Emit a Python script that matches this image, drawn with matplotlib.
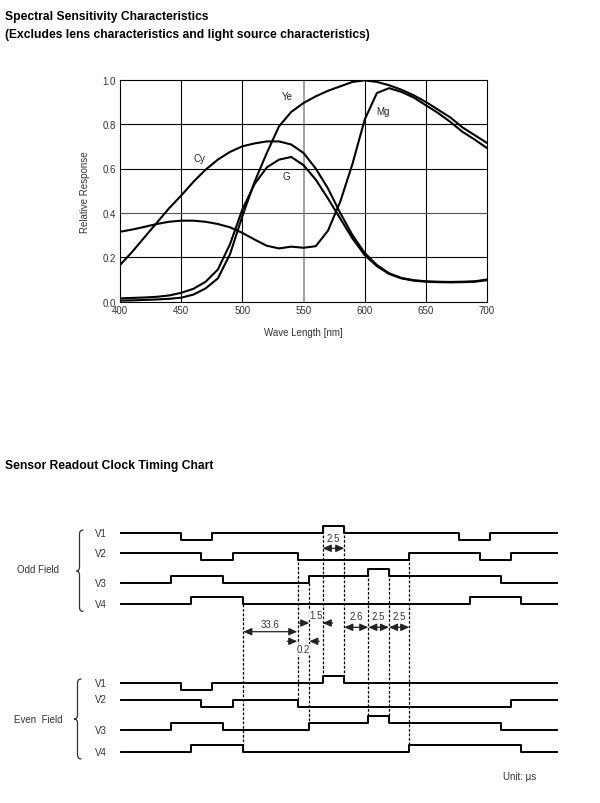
import matplotlib
matplotlib.use("Agg")
import matplotlib.pyplot as plt
from matplotlib.path import Path
from matplotlib.patches import PathPatch

plt.rcParams['font.family'] = ['Liberation Sans', 'DejaVu Sans']

# ---------------- Spectral data ----------------
wavelength = [400, 410, 420, 430, 440, 450, 460, 470, 480, 490, 500, 510, 520, 530, 540, 550,
              560, 570, 580, 590, 600, 610, 620, 630, 640, 650, 660, 670, 680, 690, 700]
cy = [0.165, 0.225, 0.29, 0.355, 0.42, 0.478, 0.54, 0.595, 0.64, 0.675, 0.70, 0.713, 0.722, 0.722, 0.708, 0.67,
      0.60, 0.51, 0.40, 0.30, 0.22, 0.165, 0.128, 0.107, 0.097, 0.092, 0.09, 0.089, 0.09, 0.092, 0.10]
g = [0.015, 0.017, 0.019, 0.022, 0.028, 0.04, 0.058, 0.09, 0.145, 0.26, 0.415, 0.53, 0.605, 0.64, 0.652, 0.615,
     0.55, 0.465, 0.375, 0.285, 0.21, 0.16, 0.125, 0.105, 0.095, 0.09, 0.088, 0.087, 0.088, 0.09, 0.097]
ye = [0.005, 0.006, 0.008, 0.01, 0.013, 0.018, 0.032, 0.06, 0.105, 0.215, 0.385, 0.54, 0.67, 0.79, 0.855, 0.895,
      0.925, 0.95, 0.97, 0.99, 0.997, 0.99, 0.975, 0.955, 0.93, 0.90, 0.865, 0.83, 0.785, 0.75, 0.715]
mg = [0.315, 0.325, 0.337, 0.35, 0.36, 0.365, 0.365, 0.36, 0.35, 0.335, 0.31, 0.28, 0.252, 0.24, 0.248, 0.243,
      0.25, 0.32, 0.45, 0.62, 0.82, 0.94, 0.962, 0.945, 0.92, 0.885, 0.85, 0.81, 0.765, 0.73, 0.692]
series_names = ['Cy', 'G', 'Ye', 'Mg']
label_pos = {'Cy': (465, 0.647), 'G': (536, 0.566), 'Ye': (537, 0.927), 'Mg': (615, 0.859)}
x_ticks = [400, 450, 500, 550, 600, 650, 700]
y_ticks = [0.0, 0.2, 0.4, 0.6, 0.8, 1.0]

# ---------------- Timing data ----------------
row_names = ['V1', 'V2', 'V3', 'V4']
odd_t = {
    'V1': [121, 180.7, 212, 322.7, 344.3, 459, 490.3, 556.7],
    'V2': [121, 201.3, 232.7, 298, 409.3, 480, 510.7, 556.7],
    'V3': [121, 170.7, 222.7, 309.3, 368.3, 389, 500.7, 556.7],
    'V4': [121, 191.3, 243.3, 470, 521, 556.7],
}
odd_lv = {
    'V1': [1, 0, 1, 2, 1, 0, 1],
    'V2': [1, 0, 1, 0, 1, 0, 1],
    'V3': [0, 1, 0, 1, 2, 1, 0],
    'V4': [0, 1, 0, 1, 0],
}
even_t = {
    'V1': [121, 180.7, 212, 322.7, 344.3, 556.7],
    'V2': [121, 201.3, 232.7, 298, 510.7, 556.7],
    'V3': [121, 170.7, 222.7, 309.3, 368.3, 389, 500.7, 556.7],
    'V4': [121, 191.3, 243.3, 409.3, 521, 556.7],
}
even_lv = {
    'V1': [1, 0, 1, 2, 1],
    'V2': [1, 0, 1, 0, 1],
    'V3': [0, 1, 0, 1, 2, 1, 0],
    'V4': [0, 1, 0, 1, 0],
}
# dashed reference lines: time, (odd row, level) -> (even row, level)
dash_t = [243.3, 298, 309.3, 322.7, 344.3, 368.3, 389, 409.3]
dash_from = [('V4', 0), ('V2', 1), ('V3', 0), ('V1', 2), ('V1', 2), ('V3', 2), ('V3', 2), ('V2', 1)]
dash_to = [('V4', 0), ('V2', 1), ('V3', 1), ('V1', 2), ('V1', 2), ('V3', 2), ('V3', 2), ('V4', 1)]
# dimensions
dim_labels = ['2.5', '33.6', '1.5', '0.2', '2.6', '2.5', '2.5']
dim_start = [322.7, 243.3, 309.3, 297.3, 344.3, 368.3, 389]
dim_end = [344.3, 297.3, 322.7, 309.3, 368.3, 389, 409.3]

# ---------------- Layout ----------------
W, H = 600, 804
fig = plt.figure(figsize=(6.0, 8.04), dpi=100)
fig.patch.set_facecolor('white')

# timing axes in pixel space
ax2 = fig.add_axes([0, 0, 1, 1])
ax2.set_xlim(0, W)
ax2.set_ylim(H, 0)
ax2.axis('off')

fig.text(5 / W, 1 - 17 / H, 'Spectral Sensitivity Characteristics', fontsize=8.7,
         fontweight='bold', va='center', ha='left')
fig.text(5 / W, 1 - 35 / H, '(Excludes lens characteristics and light source characteristics)',
         fontsize=8.7, fontweight='bold', va='center', ha='left')
fig.text(5 / W, 1 - 466 / H, 'Sensor Readout Clock Timing Chart', fontsize=8.7,
         fontweight='bold', va='center', ha='left')

# spectral axes
ax = fig.add_axes([120 / W, 1 - 302.7 / H, 367 / W, 222 / H])
for name, vals in zip(series_names, [cy, g, ye, mg]):
    ax.plot(wavelength, vals, color='black', lw=1.5, solid_joinstyle='round', zorder=3)
    lx, ly = label_pos[name]
    ax.text(lx, ly, name, fontsize=7, ha='center', va='center', color='#222222', zorder=4)
ax.set_xlim(400, 700)
ax.set_ylim(0, 1.0)
ax.set_xticks(x_ticks)
ax.set_yticks(y_ticks)
ax.set_yticklabels([f'{v:.1f}' for v in y_ticks])
for xv in x_ticks[1:-1]:
    ax.axvline(xv, color='#888888' if xv == 550 else 'black', lw=1.1 if xv == 550 else 0.8, zorder=1)
for yv in y_ticks[1:-1]:
    ax.axhline(yv, color='#555555' if abs(yv - 0.4) < 1e-9 else 'black', lw=0.8, zorder=1)
ax.tick_params(length=0, labelsize=7, labelcolor='#333333')
ax.tick_params(axis='x', pad=2.5)
ax.tick_params(axis='y', pad=3)
for s in ax.spines.values():
    s.set_linewidth(0.8)
ax.set_ylabel('Relative Response', fontsize=7, color='#333333')
ax.set_xlabel('Wave Length [nm]', fontsize=7, color='#333333')
ax.yaxis.set_label_coords(-0.082, 0.5)
ax.xaxis.set_label_coords(0.5, -0.114)

# timing rows
odd_base = {'V1': 540.7, 'V2': 560.7, 'V3': 584.3, 'V4': 605.3}
even_base = {'V1': 690.7, 'V2': 707.5, 'V3': 731.3, 'V4': 752.7}
step = 7.0


def level_y(base, row, lv):
    return base[row] - step * lv


def draw_signal(base, row, ts, lvs):
    ys = [level_y(base, row, l) for l in lvs]
    ys = ys + [ys[-1]]
    ax2.plot(ts, ys, drawstyle='steps-post', color='black', lw=1.4)
    ax2.text(101, ys[0], row, fontsize=7, ha='center', va='center', color='#333333')


for r in row_names:
    draw_signal(odd_base, r, odd_t[r], odd_lv[r])
    draw_signal(even_base, r, even_t[r], even_lv[r])

for t, (r0, l0), (r1, l1) in zip(dash_t, dash_from, dash_to):
    ax2.plot([t, t], [level_y(odd_base, r0, l0), level_y(even_base, r1, l1)],
             color='black', lw=0.9, dashes=(2.2, 1.4))


def brace(x, y0, y1, ym, tip):
    verts = [(x + 4, y0), (x, y0), (x, y0 + 4),
             (x, ym - 4),
             (x, ym), (x - tip, ym),
             (x, ym), (x, ym + 4),
             (x, y1 - 4),
             (x, y1), (x + 4, y1)]
    codes = [Path.MOVETO, Path.CURVE3, Path.CURVE3,
             Path.LINETO,
             Path.CURVE3, Path.CURVE3,
             Path.CURVE3, Path.CURVE3,
             Path.LINETO,
             Path.CURVE3, Path.CURVE3]
    ax2.add_patch(PathPatch(Path(verts, codes), fill=False, ec='#333333', lw=0.9))


brace(79.5, 531, 612.5, 572, 3)
brace(77.5, 680, 760, 720, 3.5)
ax2.text(38, 570, 'Odd Field', fontsize=7, ha='center', va='center', color='#333333')
ax2.text(38, 720, 'Even  Field', fontsize=7, ha='center', va='center', color='#333333')
ax2.text(503, 777, 'Unit: µs', fontsize=7, ha='left', va='center', color='#333333')

# dimension arrows: (arrow y, text y, kind)
dim_arrow_y = [549.3, 632.7, 624, 642.3, 628.3, 628.3, 628.3]
dim_text_y = [539, 625, 616, 650.5, 616.7, 616.7, 616.7]
dim_kind = ['in', 'in', 'out', 'out', 'in', 'in', 'in']
aprops = dict(color='#222222', lw=0.9, shrinkA=0, shrinkB=0)
astyle = ',head_length=0.5,head_width=0.22'
for lab, t0, t1, ay, ty, kind in zip(dim_labels, dim_start, dim_end, dim_arrow_y, dim_text_y, dim_kind):
    if kind == 'in':
        ax2.annotate('', xy=(t1, ay), xytext=(t0, ay),
                     arrowprops=dict(arrowstyle='<|-|>' + astyle, **aprops))
    else:
        ax2.annotate('', xy=(t0, ay), xytext=(t0 - 10, ay),
                     arrowprops=dict(arrowstyle='-|>' + astyle, **aprops))
        ax2.annotate('', xy=(t1, ay), xytext=(t1 + 10, ay),
                     arrowprops=dict(arrowstyle='-|>' + astyle, **aprops))
    ax2.text((t0 + t1) / 2, ty, lab, fontsize=7, ha='center', va='center', color='#333333',
             bbox=dict(fc='white', ec='none', pad=0.3))

fig.savefig('out.png', dpi=100)
